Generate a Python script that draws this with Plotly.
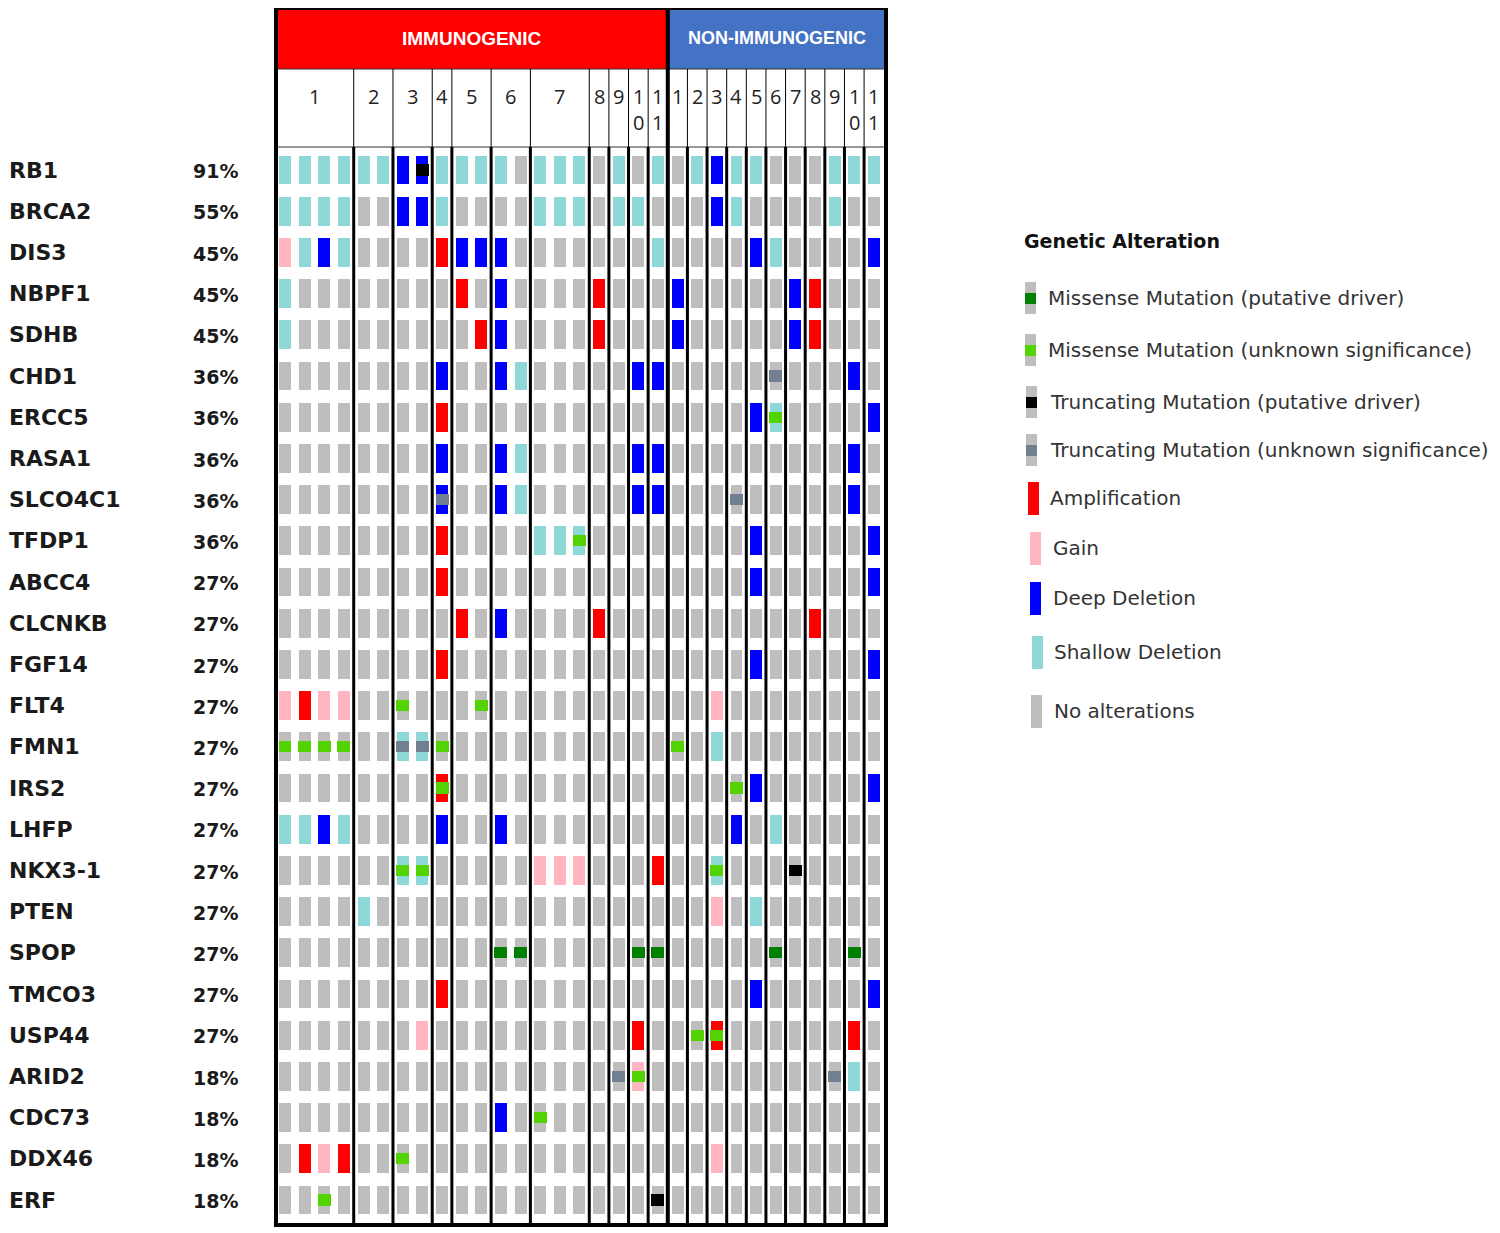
import plotly.graph_objects as go

W, H = 1500, 1233
PAGE_OFF = 8  # default body margin of the html page

GENES = ["RB1", "BRCA2", "DIS3", "NBPF1", "SDHB", "CHD1", "ERCC5", "RASA1",
         "SLCO4C1", "TFDP1", "ABCC4", "CLCNKB", "FGF14", "FLT4", "FMN1", "IRS2",
         "LHFP", "NKX3-1", "PTEN", "SPOP", "TMCO3", "USP44", "ARID2", "CDC73",
         "DDX46", "ERF"]
PCT = ["91%", "55%", "45%", "45%", "45%", "36%", "36%", "36%", "36%", "36%",
       "27%", "27%", "27%", "27%", "27%", "27%", "27%", "27%", "27%", "27%",
       "27%", "27%", "18%", "18%", "18%", "18%"]

# samples per patient
IMM_GROUPS = [4, 2, 2, 1, 2, 2, 3, 1, 1, 1, 1]
NON_GROUPS = [1] * 11

# copy number: . none, S shallow del, D deep del, A amplification, G gain
# (immunogenic samples by patient | non-immunogenic samples)
CNA = [
    "SSSS SS DD S SS S. SSS . S . S | .SDSS...SSS",   # RB1
    "SSSS .. DD S .. .. SSS . S S . | ..DS....S..",   # BRCA2
    "GSDS .. .. A DD D. ... . . . S | ....DS....D",   # DIS3
    "S... .. .. . A. D. ... A . . . | D.....DA...",   # NBPF1
    "S... .. .. . .A D. ... A . . . | D.....DA...",   # SDHB
    ".... .. .. D .. DS ... . . D D | .........D.",   # CHD1
    ".... .. .. A .. .. ... . . . . | ....DS....D",   # ERCC5
    ".... .. .. D .. DS ... . . D D | .........D.",   # RASA1
    ".... .. .. D .. DS ... . . D D | .........D.",   # SLCO4C1
    ".... .. .. A .. .. SSS . . . . | ....D.....D",   # TFDP1
    ".... .. .. A .. .. ... . . . . | ....D.....D",   # ABCC4
    ".... .. .. . A. D. ... A . . . | .......A...",   # CLCNKB
    ".... .. .. A .. .. ... . . . . | ....D.....D",   # FGF14
    "GAGG .. .. . .. .. ... . . . . | ..G........",   # FLT4
    ".... .. SS . .. .. ... . . . . | ..S........",   # FMN1
    ".... .. .. A .. .. ... . . . . | ....D.....D",   # IRS2
    "SSDS .. .. D .. D. ... . . . . | ...D.S.....",   # LHFP
    ".... .. SS . .. .. GGG . . . A | ..S........",   # NKX3-1
    ".... S. .. . .. .. ... . . . . | ..G.S......",   # PTEN
    ".... .. .. . .. .. ... . . . . | ...........",   # SPOP
    ".... .. .. A .. .. ... . . . . | ....D.....D",   # TMCO3
    ".... .. .G . .. .. ... . . A . | ..A......A.",   # USP44
    ".... .. .. . .. .. ... . . G . | .........S.",   # ARID2
    ".... .. .. . .. D. ... . . . . | ...........",   # CDC73
    ".AGA .. .. . .. .. ... . . . . | ..G........",   # DDX46
    ".... .. .. . .. .. ... . . . . | ...........",   # ERF
]

# mutations: M missense driver, m missense VUS, T truncating driver, t truncating VUS
MUT = [
    ".... .. .T . .. .. ... . . . . | ...........",   # RB1
    ".... .. .. . .. .. ... . . . . | ...........",   # BRCA2
    ".... .. .. . .. .. ... . . . . | ...........",   # DIS3
    ".... .. .. . .. .. ... . . . . | ...........",   # NBPF1
    ".... .. .. . .. .. ... . . . . | ...........",   # SDHB
    ".... .. .. . .. .. ... . . . . | .....t.....",   # CHD1
    ".... .. .. . .. .. ... . . . . | .....m.....",   # ERCC5
    ".... .. .. . .. .. ... . . . . | ...........",   # RASA1
    ".... .. .. t .. .. ... . . . . | ...t.......",   # SLCO4C1
    ".... .. .. . .. .. ..m . . . . | ...........",   # TFDP1
    ".... .. .. . .. .. ... . . . . | ...........",   # ABCC4
    ".... .. .. . .. .. ... . . . . | ...........",   # CLCNKB
    ".... .. .. . .. .. ... . . . . | ...........",   # FGF14
    ".... .. m. . .m .. ... . . . . | ...........",   # FLT4
    "mmmm .. tt m .. .. ... . . . . | m..........",   # FMN1
    ".... .. .. m .. .. ... . . . . | ...m.......",   # IRS2
    ".... .. .. . .. .. ... . . . . | ...........",   # LHFP
    ".... .. mm . .. .. ... . . . . | ..m...T....",   # NKX3-1
    ".... .. .. . .. .. ... . . . . | ...........",   # PTEN
    ".... .. .. . .. MM ... . . M M | .....M...M.",   # SPOP
    ".... .. .. . .. .. ... . . . . | ...........",   # TMCO3
    ".... .. .. . .. .. ... . . . . | .mm........",   # USP44
    ".... .. .. . .. .. ... . t m . | ........t..",   # ARID2
    ".... .. .. . .. .. m.. . . . . | ...........",   # CDC73
    ".... .. m. . .. .. ... . . . . | ...........",   # DDX46
    "..m. .. .. . .. .. ... . . . T | ...........",   # ERF
]

LEG_KEYS = ["M", "m", "T", "t", "A", "G", "D", "S", "."]
LEG_LABELS = ["Missense Mutation (putative driver)",
              "Missense Mutation (unknown significance)",
              "Truncating Mutation (putative driver)",
              "Truncating Mutation (unknown significance)",
              "Amplification", "Gain", "Deep Deletion", "Shallow Deletion",
              "No alterations"]

COLORS = {".": "#BEBEBE", "S": "#8FD8D8", "D": "#0000FF", "A": "#FF0000",
          "G": "#FFB6C1", "M": "#008000", "m": "#53D400", "T": "#000000",
          "t": "#708090"}

CNA = [r.replace(" ", "").replace("|", "") for r in CNA]
MUT = [r.replace(" ", "").replace("|", "") for r in MUT]
n_cols = len(CNA[0])

# pixel geometry of the grid (page pixels)
X0, DX = 285, 19.63   # centre of first sample column, column pitch
Y0, DY = 170, 41.2    # centre of first gene row, row pitch


def cx(px):
    return (px - X0) / DX


def cy(py):
    return (py - Y0) / DY


FR_L, FR_R, FR_T, FR_B = cx(276), cx(886), cy(8), cy(1225)
HDR_LINE, NUM_LINE = cy(69), cy(147)

CELL_W, CELL_H = 0.61, 0.70
MUT_W, MUT_H = 0.66, 0.27

fig = go.Figure()


def add_cells(xs, ys, color, w, h, xa="x", ya="y"):
    if not xs:
        return
    fig.add_trace(go.Bar(
        x=xs, y=[h] * len(xs), base=[v - h / 2 for v in ys], width=w,
        marker=dict(color=color, line_width=0), showlegend=False,
        hoverinfo="skip", xaxis=xa, yaxis=ya))


# background "no alteration" cells
add_cells([c for r in range(len(GENES)) for c in range(n_cols)],
          [r for r in range(len(GENES)) for c in range(n_cols)],
          COLORS["."], CELL_W, CELL_H)
for code in "SDAG":
    pts = [(c, r) for r, row in enumerate(CNA) for c, ch in enumerate(row) if ch == code]
    add_cells([p[0] for p in pts], [p[1] for p in pts], COLORS[code], CELL_W, CELL_H)
for code in "MmTt":
    pts = [(c, r) for r, row in enumerate(MUT) for c, ch in enumerate(row) if ch == code]
    add_cells([p[0] for p in pts], [p[1] for p in pts], COLORS[code], MUT_W, MUT_H)

# legend swatches on a pixel overlay axis
LEG_Y = [298, 350, 402, 450, 498, 548, 598, 652, 711]
LEG_IX = [1030, 1030, 1031, 1031, 1033, 1035, 1035, 1037, 1036]
LEG_TX = [1046, 1046, 1048, 1048, 1048, 1051, 1051, 1052, 1052]
for k, key in enumerate(LEG_KEYS):
    if key in "MmTt":
        add_cells([LEG_IX[k]], [LEG_Y[k]], COLORS["."], 11, 32, "x2", "y2")
        add_cells([LEG_IX[k]], [LEG_Y[k]], COLORS[key], 11, 11, "x2", "y2")
    else:
        add_cells([LEG_IX[k]], [LEG_Y[k]], COLORS[key], 11, 33, "x2", "y2")

# group boundaries
groups = IMM_GROUPS + NON_GROUPS
bounds, s = [], 0
for g in groups[:-1]:
    s += g
    bounds.append(s - 0.5)
SECTION = sum(IMM_GROUPS) - 0.5

shapes = [
    dict(type="rect", x0=FR_L, x1=SECTION, y0=FR_T, y1=HDR_LINE,
         fillcolor="#FF0000", line_width=0),
    dict(type="rect", x0=SECTION, x1=FR_R, y0=FR_T, y1=HDR_LINE,
         fillcolor="#4472C4", line_width=0),
    dict(type="line", x0=FR_L, x1=FR_R, y0=HDR_LINE, y1=HDR_LINE,
         line=dict(color="#333333", width=1)),
    dict(type="line", x0=FR_L, x1=FR_R, y0=NUM_LINE, y1=NUM_LINE,
         line=dict(color="#333333", width=1)),
]
for b in bounds:
    if b == SECTION:
        continue
    shapes.append(dict(type="line", x0=b, x1=b, y0=HDR_LINE, y1=NUM_LINE,
                       line=dict(color="black", width=1)))
    shapes.append(dict(type="line", x0=b, x1=b, y0=NUM_LINE, y1=FR_B,
                       line=dict(color="black", width=3)))
shapes.append(dict(type="line", x0=SECTION, x1=SECTION, y0=FR_T, y1=FR_B,
                   line=dict(color="black", width=4)))
shapes.append(dict(type="rect", x0=FR_L, x1=FR_R, y0=FR_T, y1=FR_B,
                   line=dict(color="black", width=4), fillcolor="rgba(0,0,0,0)"))

ann = []
# section titles
ann.append(dict(x=(FR_L + SECTION) / 2, y=cy(38), text="<b>IMMUNOGENIC</b>",
                showarrow=False, font=dict(family="Liberation Sans Narrow, Liberation Sans",
                                           size=19, color="white")))
ann.append(dict(x=(SECTION + FR_R) / 2, y=cy(38), text="<b>NON-IMMUNOGENIC</b>",
                showarrow=False, font=dict(family="Liberation Sans Narrow, Liberation Sans",
                                           size=18, color="white")))
# patient numbers
start = 0
for grp in (IMM_GROUPS, NON_GROUPS):
    for k, g in enumerate(grp):
        lab = str(k + 1)
        if g == 1 and len(lab) > 1:
            lab = "<br>".join(lab)
        ann.append(dict(x=start + (g - 1) / 2, y=cy(81), text=lab, showarrow=False,
                        yanchor="top", font=dict(family="Open Sans", size=20, color="#222")))
        start += g
# gene names and frequencies
for r, (g, p) in enumerate(zip(GENES, PCT)):
    ann.append(dict(x=cx(12), y=r, text=f"<b>{g}</b>", showarrow=False, xanchor="left",
                    xshift=-5, font=dict(family="DejaVu Sans", size=22, color="#1a1a1a")))
    ann.append(dict(x=cx(191), y=r + 0.03, text=f"<b>{p}</b>", showarrow=False, xanchor="left",
                    font=dict(family="DejaVu Sans", size=19, color="#1a1a1a")))
# legend texts
ann.append(dict(x=1022, y=241, xref="x2", yref="y2", text="<b>Genetic Alteration</b>",
                showarrow=False, xanchor="left",
                font=dict(family="DejaVu Sans", size=19, color="#111")))
for k, lab in enumerate(LEG_LABELS):
    ann.append(dict(x=LEG_TX[k], y=LEG_Y[k], xref="x2", yref="y2", text=lab,
                    showarrow=False, xanchor="left",
                    font=dict(family="DejaVu Sans", size=20, color="#333")))

# the figure sits PAGE_OFF px from the page corner
fig.update_layout(
    width=W - PAGE_OFF, height=H - PAGE_OFF, margin=dict(l=0, r=0, t=0, b=0),
    plot_bgcolor="white", paper_bgcolor="white", barmode="overlay",
    xaxis=dict(domain=[0, 1], range=[cx(PAGE_OFF), cx(W)], visible=False, fixedrange=True),
    yaxis=dict(domain=[0, 1], range=[cy(H), cy(PAGE_OFF)], visible=False, fixedrange=True),
    xaxis2=dict(domain=[0, 1], range=[PAGE_OFF, W], visible=False, anchor="y2",
                overlaying="x", fixedrange=True),
    yaxis2=dict(domain=[0, 1], range=[H, PAGE_OFF], visible=False, anchor="x2",
                overlaying="y", fixedrange=True),
    shapes=shapes, annotations=ann, bargap=0,
)

fig.write_html("out.html")
